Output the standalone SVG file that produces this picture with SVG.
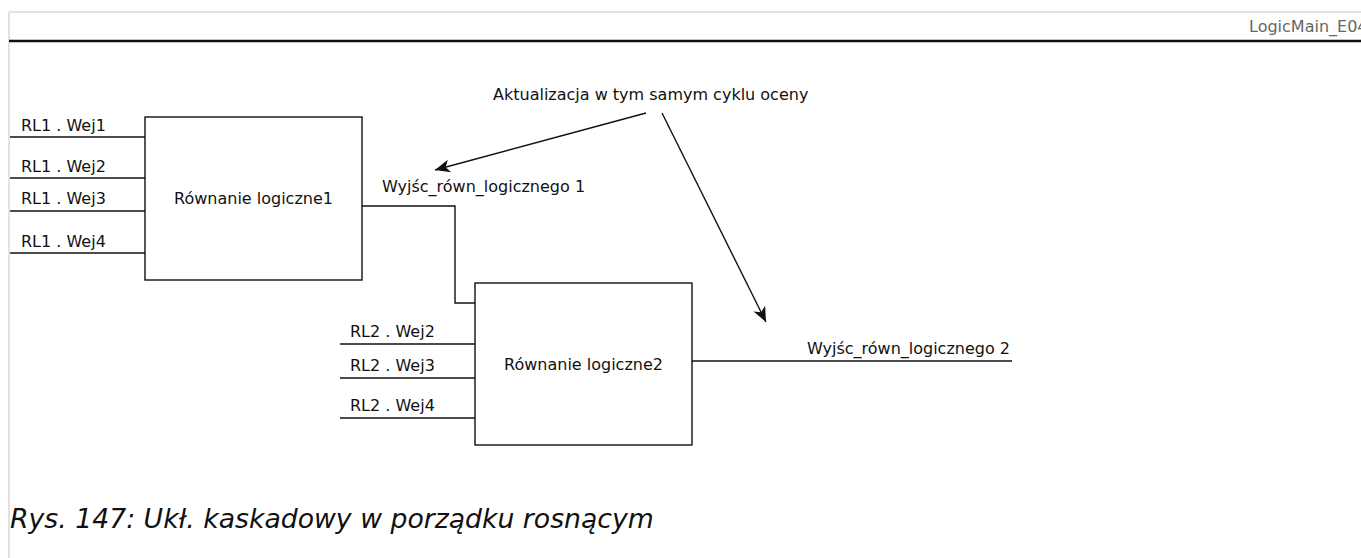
<svg xmlns="http://www.w3.org/2000/svg" width="1361" height="558" viewBox="0 0 1361 558">
<style>
text{font-family:"DejaVu Sans",sans-serif;font-size:16px;fill:#111}
.box{fill:#fff;stroke:#111;stroke-width:1.4}
.w{fill:none;stroke:#111;stroke-width:1.4}
.hdr{fill:#666}
.cap{font-style:italic;font-size:26.7px}
</style>
<defs>
<marker id="ah" markerUnits="userSpaceOnUse" markerWidth="20" markerHeight="16" viewBox="-16 -8 18 16" refX="0" refY="0" orient="auto">
<path d="M0,0 L-15,-6.5 L-11,0 L-15,6.5 Z" fill="#111"/>
</marker>
</defs>
<rect width="1361" height="558" fill="#fff"/>
<g id="frame">
<line x1="9" y1="12" x2="1361" y2="12" stroke="#e2e2e2" stroke-width="2"/>
<line x1="9" y1="12" x2="9" y2="558" stroke="#e2e2e2" stroke-width="2"/>
<line x1="9" y1="41" x2="1361" y2="41" stroke="#111" stroke-width="2.5"/>
<text class="hdr" x="1249" y="32">LogicMain_E04</text>
</g>
<g id="connectors">
<line class="w" x1="10" y1="137" x2="145" y2="137"/>
<line class="w" x1="10" y1="178" x2="145" y2="178"/>
<line class="w" x1="10" y1="211" x2="145" y2="211"/>
<line class="w" x1="10" y1="253" x2="145" y2="253"/>
<polyline class="w" points="362,206 455,206 455,303 475,303"/>
<line class="w" x1="340" y1="344" x2="475" y2="344"/>
<line class="w" x1="340" y1="378" x2="475" y2="378"/>
<line class="w" x1="340" y1="418" x2="475" y2="418"/>
<line class="w" x1="692" y1="361" x2="1012" y2="361"/>
<line class="w" x1="646" y1="113" x2="435" y2="170" marker-end="url(#ah)"/>
<line class="w" x1="662" y1="113" x2="766" y2="322" marker-end="url(#ah)"/>
</g>
<g id="node-rl1">
<rect class="box" x="145" y="117" width="217" height="163"/>
<text x="253.5" y="204" text-anchor="middle">Równanie logiczne1</text>
<text x="21" y="131">RL1 . Wej1</text>
<text x="21" y="172">RL1 . Wej2</text>
<text x="21" y="204">RL1 . Wej3</text>
<text x="21" y="247">RL1 . Wej4</text>
<text x="382" y="192">Wyjśc_równ_logicznego 1</text>
</g>
<g id="node-rl2">
<rect class="box" x="475" y="283" width="217" height="162"/>
<text x="583.5" y="370" text-anchor="middle">Równanie logiczne2</text>
<text x="350" y="337">RL2 . Wej2</text>
<text x="350" y="371">RL2 . Wej3</text>
<text x="350" y="411">RL2 . Wej4</text>
<text x="1010" y="354" text-anchor="end">Wyjśc_równ_logicznego 2</text>
</g>
<g id="note">
<text x="493" y="100">Aktualizacja w tym samym cyklu oceny</text>
</g>
<g id="caption">
<text class="cap" x="10" y="528">Rys. 147: Ukł. kaskadowy w porządku rosnącym</text>
</g>
</svg>
